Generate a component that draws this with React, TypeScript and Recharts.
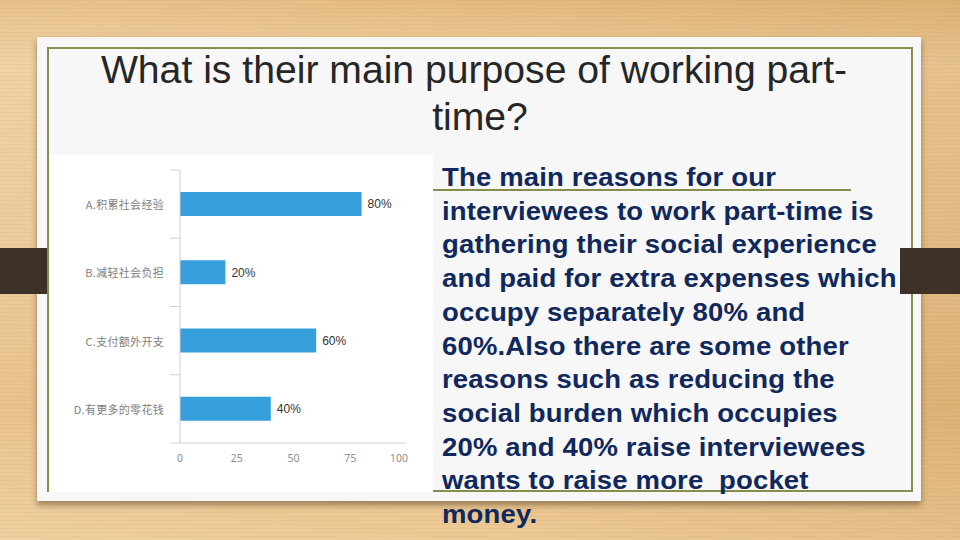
import React from 'react';
import { BarChart, Bar, XAxis, YAxis, LabelList } from 'recharts';

// survey answers (percent of interviewees)
const categories = ['A.积累社会经验', 'B.减轻社会负担', 'C.支付额外开支', 'D.有更多的零花钱'];
const percents = [80, 20, 60, 40];
const xTicks = [0, 25, 50, 75, 100];

const titleLines = ['What is their main purpose of working part-', 'time?'];
const bodyLines = [
  'The main reasons for our',
  'interviewees to work part-time is',
  'gathering their social experience',
  'and paid for extra expenses which',
  'occupy separately 80% and',
  '60%.Also there are some other',
  'reasons such as reducing the',
  'social burden which occupies',
  '20% and 40% raise interviewees',
  'wants to raise more  pocket',
  'money.',
];

const data = categories.map((name, i) => ({ name, value: percents[i] }));

const CHART_W = 384;
const CHART_H = 337;
const MARGIN = { top: 15, right: 26, left: 0, bottom: 19 };
const Y_AXIS_W = 131;
const X_AXIS_H = 30;
const PLOT_H = CHART_H - MARGIN.top - MARGIN.bottom - X_AXIS_H;
const HALF_BAND = PLOT_H / categories.length / 2;
const AXIS_Y = CHART_H - MARGIN.bottom - X_AXIS_H;

const OLIVE = '#858e4f';

const YTick = (props: any) => {
  const { y, index, payload } = props;
  const ax = MARGIN.left + Y_AXIS_W;
  const top = y - HALF_BAND;
  const last = index === categories.length - 1;
  return (
    <g>
      <line x1={ax - 10} x2={ax} y1={top} y2={top} stroke="#d3d3d3" />
      {last && <line x1={ax - 10} x2={ax} y1={y + HALF_BAND} y2={y + HALF_BAND} stroke="#d3d3d3" />}
      <text
        x={ax - 16}
        y={y}
        textAnchor="end"
        dominantBaseline="central"
        fill="#808080"
        fontSize={11}
        letterSpacing={0.3}
        fontFamily="'Noto Sans CJK SC', 'Noto Sans', sans-serif"
      >
        {payload.value}
      </text>
    </g>
  );
};

const XTick = (props: any) => {
  const { x, payload } = props;
  const isLast = payload.value === xTicks[xTicks.length - 1];
  return (
    <text
      x={isLast ? x + 1 : x}
      y={AXIS_Y + 15}
      textAnchor={isLast ? 'end' : 'middle'}
      dominantBaseline="central"
      fill="#8f8f8f"
      fontSize={10.5}
      fontFamily="'Noto Sans', sans-serif"
    >
      {payload.value}
    </text>
  );
};

function PurposeChart() {
  return (
    <BarChart width={CHART_W} height={CHART_H} data={data} layout="vertical" margin={MARGIN}>
      <XAxis
        type="number"
        domain={[0, 100]}
        ticks={xTicks}
        interval={0}
        height={X_AXIS_H}
        axisLine={{ stroke: '#d3d3d3' }}
        tickLine={false}
        tick={XTick}
      />
      <YAxis
        type="category"
        dataKey="name"
        width={Y_AXIS_W}
        axisLine={{ stroke: '#c9d1da' }}
        tickLine={false}
        tick={YTick}
        interval={0}
      />
      <Bar dataKey="value" fill="#36a0dc" barSize={24} isAnimationActive={false}>
        <LabelList
          dataKey="value"
          position="right"
          offset={6}
          formatter={(v: any) => `${v}%`}
          fill="#333"
          fontSize={12}
          fontFamily="'Liberation Sans', Arial, sans-serif"
        />
      </Bar>
    </BarChart>
  );
}

const titleStyle: React.CSSProperties = {
  position: 'absolute',
  left: 0,
  width: 960,
  textAlign: 'center',
  fontSize: 38,
  lineHeight: '46.7px',
  color: '#262626',
  whiteSpace: 'nowrap',
  transform: 'scaleX(1.03)',
};

export default function App() {
  return (
    <div
      style={{
        position: 'absolute',
        left: 0,
        top: 0,
        width: 960,
        height: 540,
        overflow: 'hidden',
        fontFamily: "'Liberation Sans', Arial, sans-serif",
        background:
          'repeating-linear-gradient(180deg, rgba(160,100,35,0.06) 0px, rgba(160,100,35,0.06) 1px, rgba(255,255,255,0) 1px, rgba(255,255,255,0) 4px),' +
          'linear-gradient(90deg, rgba(255,240,215,0.15) 0%, rgba(255,240,215,0) 50%, rgba(170,110,40,0.12) 100%),' +
          'linear-gradient(180deg, #e4ba80 0%, #edcd9c 12%, #e9c592 45%, #e4bb82 75%, #ecca96 100%)',
      }}
    >
      {/* slide panel */}
      <div
        style={{
          position: 'absolute',
          left: 37,
          top: 37,
          width: 884,
          height: 464,
          background: '#f7f7f7',
          boxShadow: '0 4px 6px rgba(60,40,20,0.45)',
        }}
      />
      <div
        style={{
          position: 'absolute',
          left: 47,
          top: 47,
          width: 862,
          height: 441,
          border: `2px solid ${OLIVE}`,
        }}
      />
      <div style={{ position: 'absolute', left: 48, top: 189, width: 803, height: 2, background: OLIVE }} />

      {/* dark side tabs */}
      <div style={{ position: 'absolute', left: 0, top: 248, width: 47, height: 46, background: '#3d3128' }} />
      <div style={{ position: 'absolute', left: 900, top: 248, width: 60, height: 46, background: '#3d3128' }} />

      {/* title */}
      <div style={{ ...titleStyle, top: 47, left: -6 }}>{titleLines[0]}</div>
      <div style={{ ...titleStyle, top: 94 }}>{titleLines[1]}</div>

      {/* chart picture */}
      <div style={{ position: 'absolute', left: 49, top: 155, width: CHART_W, height: CHART_H, background: '#ffffff' }}>
        <PurposeChart />
      </div>

      {/* body text */}
      <div
        style={{
          position: 'absolute',
          left: 442,
          top: 161,
          fontSize: 25,
          fontWeight: 'bold',
          lineHeight: '33.7px',
          letterSpacing: 0.15,
          color: '#10285b',
          whiteSpace: 'pre',
          transform: 'scaleX(1.1)',
          transformOrigin: '0 0',
        }}
      >
        {bodyLines.map((l, i) => (
          <div key={i}>{l}</div>
        ))}
      </div>
    </div>
  );
}
